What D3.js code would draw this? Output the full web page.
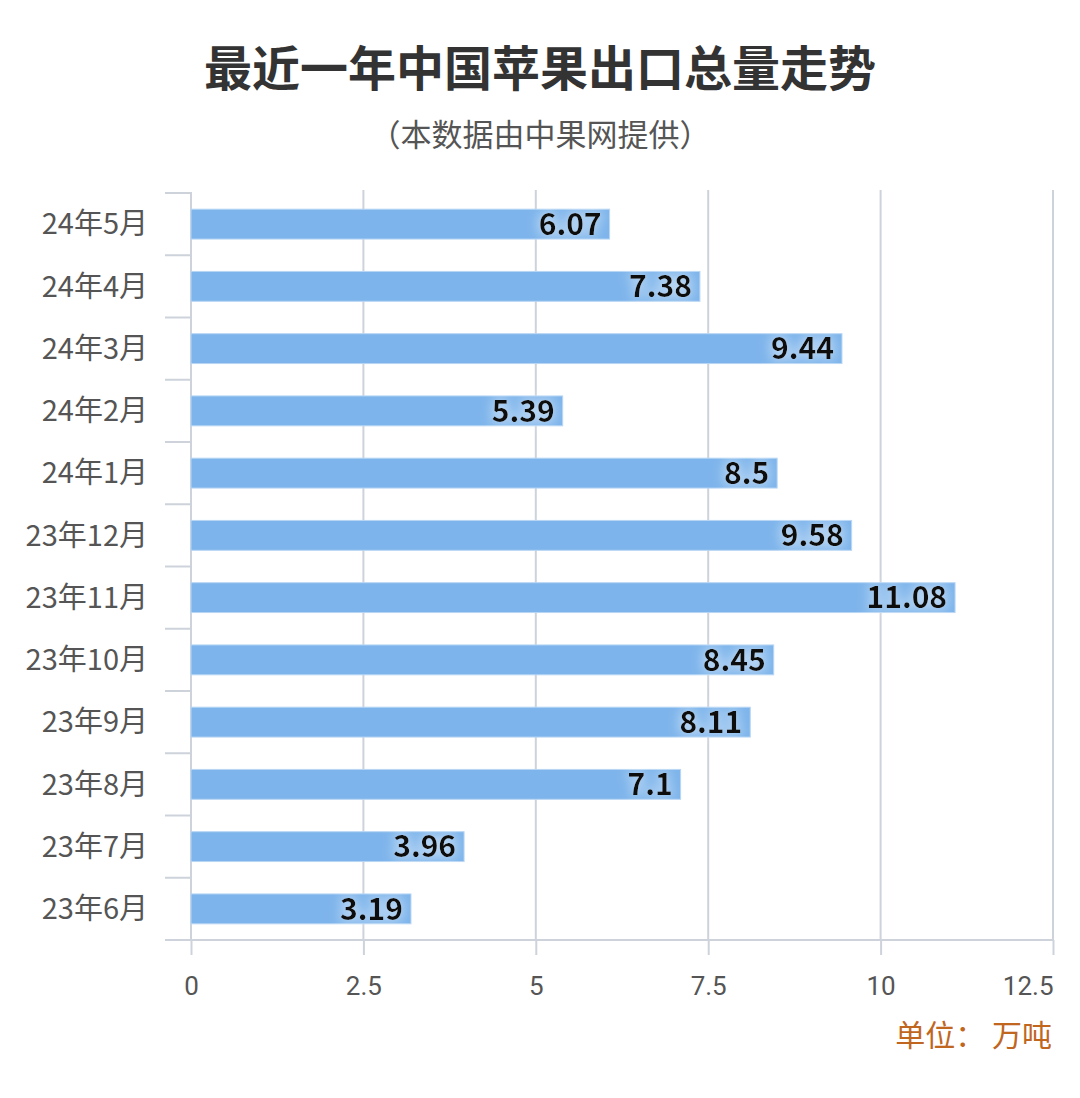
<!DOCTYPE html>
<html><head><meta charset="utf-8">
<script src="https://cdn.jsdelivr.net/npm/d3@7/dist/d3.min.js"></script>
<style>
html,body{margin:0;padding:0;background:#fff;}
svg{display:block;font-family:"Noto Sans CJK SC","Noto Sans",sans-serif;}
</style></head>
<body>
<svg id="chart" width="1080" height="1098"></svg>
<script>
const categories = ["24年5月","24年4月","24年3月","24年2月","24年1月","23年12月","23年11月","23年10月","23年9月","23年8月","23年7月","23年6月"];
const values = [6.07, 7.38, 9.44, 5.39, 8.5, 9.58, 11.08, 8.45, 8.11, 7.1, 3.96, 3.19];
const labels = ["6.07","7.38","9.44","5.39","8.5","9.58","11.08","8.45","8.11","7.1","3.96","3.19"];
const xTicks = [0, 2.5, 5, 7.5, 10, 12.5];
const xTickLabels = ["0","2.5","5","7.5","10","12.5"];
const title = "最近一年中国苹果出口总量走势";
const subtitle = "（本数据由中果网提供）";
const unitText = "单位： 万吨";

const svg = d3.select("#chart");
const x = d3.scaleLinear().domain([0, 12.5]).range([191, 1053]);
const y = d3.scaleBand().domain(categories).range([193, 940]).paddingInner(0.52).paddingOuter(0.26);
const step = y.step();

const defs = svg.append("defs");
const f = defs.append("filter").attr("id","halo").attr("x","-30%").attr("y","-40%").attr("width","160%").attr("height","180%");
f.append("feMorphology").attr("in","SourceAlpha").attr("operator","dilate").attr("radius",2).attr("result","d");
f.append("feGaussianBlur").attr("in","d").attr("stdDeviation",6).attr("result","b");
f.append("feFlood").attr("flood-color","#ffffff").attr("flood-opacity",0.45).attr("result","c");
f.append("feComposite").attr("in","c").attr("in2","b").attr("operator","in").attr("result","g");
const m = f.append("feMerge");
m.append("feMergeNode").attr("in","g");
m.append("feMergeNode").attr("in","SourceGraphic");

// Title
svg.append("text").attr("x",540).attr("y",86).attr("text-anchor","middle")
  .attr("font-size",48).attr("font-weight","bold").attr("fill","#333").text(title);
svg.append("text").attr("x",540).attr("y",146).attr("text-anchor","middle")
  .attr("font-size",31).attr("fill","#555").text(subtitle);

const axisColor = "#cdd2db";

// vertical grid lines
svg.append("g").selectAll("line").data(xTicks.slice(1)).join("line")
  .attr("x1",d=>x(d)).attr("x2",d=>x(d)).attr("y1",190).attr("y2",940)
  .attr("stroke",axisColor).attr("stroke-width",2);

// y band boundary ticks
const bounds = categories.map(c => y(c) - step*0.26).concat([940]);
svg.append("g").selectAll("line").data(bounds).join("line")
  .attr("x1",165).attr("x2",191).attr("y1",d=>d).attr("y2",d=>d)
  .attr("stroke",axisColor).attr("stroke-width",2);

// y axis line
svg.append("line").attr("x1",x(0)).attr("x2",x(0)).attr("y1",192).attr("y2",940)
  .attr("stroke",axisColor).attr("stroke-width",2);

// x axis
const xAxis = d3.axisBottom(x).tickValues(xTicks).tickFormat((d,i)=>xTickLabels[i]).tickSize(15).tickPadding(22);
const gx = svg.append("g").attr("transform","translate(0,940)").call(xAxis);
gx.select(".domain").remove();
gx.selectAll(".tick line").attr("stroke",axisColor).attr("stroke-width",2);
gx.selectAll(".tick text").attr("font-size",26).attr("fill","#555").attr("font-family","Roboto, 'Noto Sans', sans-serif");
gx.selectAll(".tick text").filter(d=>d===12.5).attr("text-anchor","end");
svg.append("line").attr("x1",165).attr("x2",1053).attr("y1",940).attr("y2",940)
  .attr("stroke",axisColor).attr("stroke-width",2);

// category labels
svg.append("g").selectAll("text").data(categories).join("text")
  .attr("x",148).attr("y",c=>y(c)+y.bandwidth()/2).attr("dy","0.35em")
  .attr("text-anchor","end").attr("font-size",29).attr("fill","#555").text(c=>c);

// bars
svg.append("g").selectAll("rect").data(values).join("rect")
  .attr("x",x(0)).attr("y",(d,i)=>y(categories[i]))
  .attr("width",d=>x(d)-x(0)).attr("height",y.bandwidth())
  .attr("fill","#7db4eb").attr("stroke","#b8d6f4").attr("stroke-width",1);

// value labels
svg.append("g").selectAll("text").data(values).join("text")
  .attr("x",d=>x(d)-8).attr("y",(d,i)=>y(categories[i])+y.bandwidth()/2).attr("dy","0.36em")
  .attr("text-anchor","end").attr("font-size",30).attr("font-weight","bold").attr("fill","#111")
  .attr("filter","url(#halo)").text((d,i)=>labels[i]);

// unit
svg.append("text").attr("x",1052).attr("y",1046).attr("text-anchor","end")
  .attr("font-size",30).attr("fill","#c0661f").text(unitText);
</script>
</body></html>
